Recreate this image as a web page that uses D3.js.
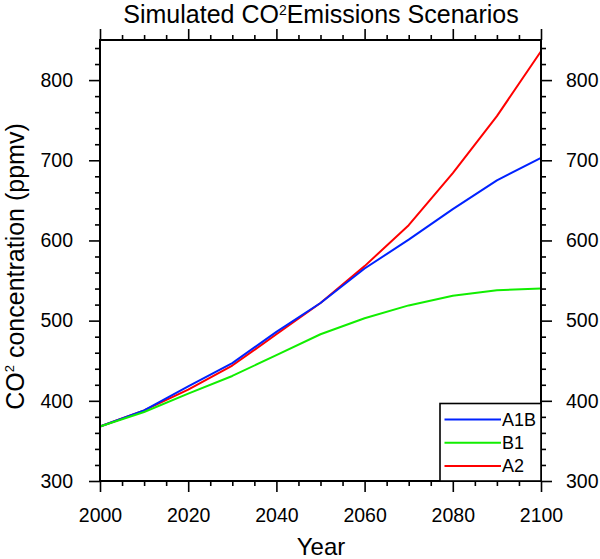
<!DOCTYPE html>
<html>
<head>
<meta charset="utf-8">
<script src="https://cdn.jsdelivr.net/npm/d3@7"></script>
<style>
  html, body { margin: 0; padding: 0; background: #fff; }
  svg { display: block; font-family: "Liberation Sans", Arial, Helvetica, sans-serif; }
</style>
</head>
<body>
<svg id="chart" width="600" height="559"></svg>
<script>
// ---- data ----
const years = [2000, 2010, 2020, 2030, 2040, 2050, 2060, 2070, 2080, 2090, 2100];
const seriesNames = ["A1B", "B1", "A2"];
const seriesColors = ["#0022ff", "#11ee00", "#ff0000"];
const a1b = [368, 388, 418, 447, 486, 522, 565, 601, 639, 675, 703];
const b1  = [368, 386, 409, 431, 457, 483, 503, 519, 531, 538, 540];
const a2  = [368, 388, 414, 444, 483, 522, 568, 619, 684, 755, 836];
const xTicks = [2000, 2020, 2040, 2060, 2080, 2100];
const yTicks = [300, 400, 500, 600, 700, 800];

const seriesValues = [a1b, b1, a2];
const drawOrder = [2, 0, 1]; // A2, A1B, B1

const svg = d3.select("#chart");
const L = 100, R = 541, T = 40, B = 481;

const x = d3.scaleLinear().domain([2000, 2100]).range([L, R]);
const y = d3.scaleLinear().domain([300, 850]).range([B, T]);

const xMinor = d3.range(2000, 2101, 5).filter(v => xTicks.indexOf(v) < 0);
const yMinor = d3.range(300, 851, 20).filter(v => yTicks.indexOf(v) < 0);

const tickFont = 19.5;
function styleAxis(g) {
  g.select(".domain").remove();
  g.selectAll(".tick line").attr("stroke", "#000").attr("stroke-width", 1.6);
  g.selectAll(".tick text").attr("font-size", tickFont).attr("fill", "#000")
    .attr("font-family", "Liberation Sans, Arial, sans-serif");
}

// major axes
svg.append("g").attr("transform", `translate(0,${B})`)
  .call(d3.axisBottom(x).tickValues(xTicks).tickFormat(d3.format("d")).tickSize(11).tickPadding(16))
  .call(styleAxis);
svg.append("g").attr("transform", `translate(0,${T})`)
  .call(d3.axisTop(x).tickValues(xTicks).tickFormat("").tickSize(11))
  .call(styleAxis);
svg.append("g").attr("transform", `translate(${L},0)`)
  .call(d3.axisLeft(y).tickValues(yTicks).tickFormat(d3.format("d")).tickSize(11).tickPadding(16))
  .call(styleAxis);
svg.append("g").attr("transform", `translate(${R},0)`)
  .call(d3.axisRight(y).tickValues(yTicks).tickFormat(d3.format("d")).tickSize(11).tickPadding(14))
  .call(styleAxis);

// minor axes
svg.append("g").attr("transform", `translate(0,${B})`)
  .call(d3.axisBottom(x).tickValues(xMinor).tickFormat("").tickSize(5)).call(styleAxis);
svg.append("g").attr("transform", `translate(0,${T})`)
  .call(d3.axisTop(x).tickValues(xMinor).tickFormat("").tickSize(5)).call(styleAxis);
svg.append("g").attr("transform", `translate(${L},0)`)
  .call(d3.axisLeft(y).tickValues(yMinor).tickFormat("").tickSize(5)).call(styleAxis);
svg.append("g").attr("transform", `translate(${R},0)`)
  .call(d3.axisRight(y).tickValues(yMinor).tickFormat("").tickSize(5)).call(styleAxis);

// lines
const line = d3.line().x((d, i) => x(years[i])).y(d => y(d));
drawOrder.forEach(k => {
  svg.append("path").datum(seriesValues[k])
    .attr("fill", "none").attr("stroke", seriesColors[k])
    .attr("stroke-width", 2).attr("stroke-linejoin", "round")
    .attr("d", line);
});

// frame
svg.append("rect").attr("x", L).attr("y", T).attr("width", R - L).attr("height", B - T)
  .attr("fill", "none").attr("stroke", "#000").attr("stroke-width", 2);

// legend
const legX0 = 440, legY0 = 403.5;
svg.append("rect").attr("x", legX0).attr("y", legY0).attr("width", R - legX0).attr("height", B - legY0)
  .attr("fill", "#fff").attr("stroke", "#000").attr("stroke-width", 1.6);
seriesNames.forEach((name, i) => {
  const ly = 419.5 + i * 23.2;
  svg.append("line").attr("x1", 444.5).attr("x2", 501).attr("y1", ly).attr("y2", ly)
    .attr("stroke", seriesColors[i]).attr("stroke-width", 2);
  svg.append("text").attr("x", 502).attr("y", ly).attr("dy", "0.36em")
    .attr("font-size", 18).attr("fill", "#000").text(name);
});

// title
const title = svg.append("text").attr("x", 321).attr("y", 23)
  .attr("text-anchor", "middle").attr("font-size", 25).attr("fill", "#000");
title.append("tspan").text("Simulated CO");
title.append("tspan").attr("font-size", 14).attr("dy", -8).text("2");
title.append("tspan").attr("dy", 8).text("Emissions Scenarios");

// x axis title
svg.append("text").attr("x", 321).attr("y", 555).attr("text-anchor", "middle")
  .attr("font-size", 24).attr("fill", "#000").text("Year");

// y axis title
const yt = svg.append("text").attr("transform", "translate(24,266.5) rotate(-90)")
  .attr("text-anchor", "middle").attr("font-size", 25).attr("fill", "#000");
yt.append("tspan").text("CO");
yt.append("tspan").attr("font-size", 13).attr("dy", -10).text("2");
yt.append("tspan").attr("dy", 10).text(" concentration (ppmv)");
</script>
</body>
</html>
